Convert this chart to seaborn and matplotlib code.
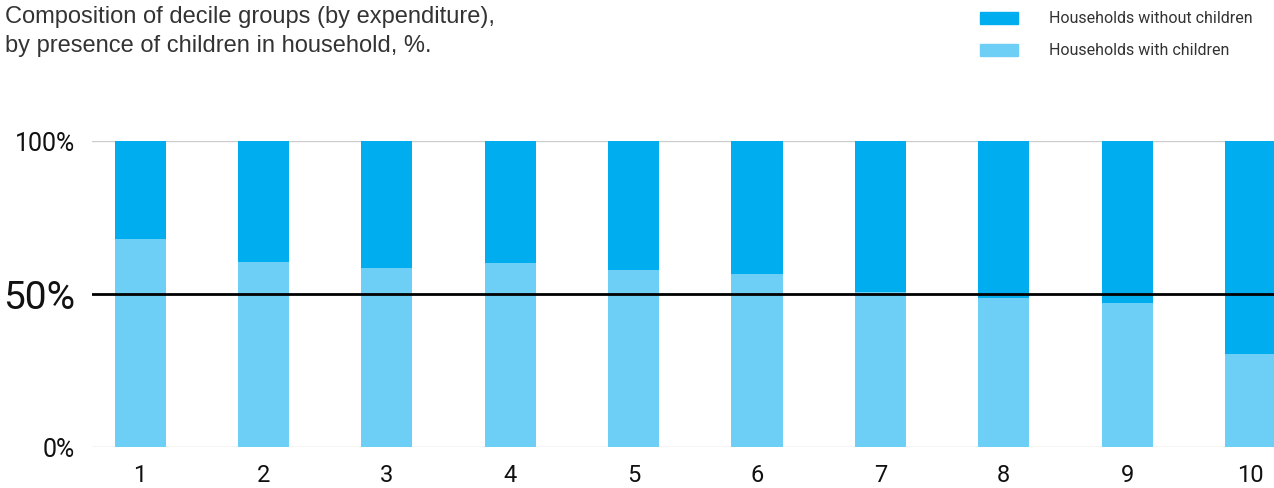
import matplotlib
matplotlib.use("Agg")
import matplotlib.pyplot as plt
import matplotlib.patches as mpatches
import seaborn as sns
import pandas as pd

deciles = ["1", "2", "3", "4", "5", "6", "7", "8", "9", "10"]
with_children = [68.0, 60.5, 58.5, 60.1, 57.8, 56.5, 50.7, 48.8, 47.2, 30.4]
total = [100] * 10

dark = "#00AEEF"
light = "#6ECFF6"

sns.set_theme(style="white")
plt.rcParams["font.family"] = ["Roboto", "DejaVu Sans"]

df = pd.DataFrame({"decile": deciles, "with": with_children, "total": total})

fig = plt.figure(figsize=(12.74, 4.88), dpi=100)
ax = fig.add_axes([0.0722, 0.084, 0.9278, 0.627])

sns.barplot(data=df, x="decile", y="total", color=dark, width=0.415,
            saturation=1, linewidth=0, ax=ax, zorder=2)
sns.barplot(data=df, x="decile", y="with", color=light, width=0.415,
            saturation=1, linewidth=0, ax=ax, zorder=3)

ax.set_ylim(0, 100)
ax.set_xlim(-0.39, 9.19)
ax.axhline(0, color="#cccccc", lw=1, zorder=1)
ax.axhline(100, color="#cccccc", lw=1, zorder=1)
ax.axhline(50, color="black", lw=2, zorder=4)
for s in ax.spines.values():
    s.set_visible(False)
ax.set_xlabel("")
ax.set_ylabel("")
ax.set_yticks([0, 50, 100])
ax.set_yticklabels(["0%", "50%", "100%"])
for lab in ax.get_yticklabels():
    lab.set_fontsize(28 if lab.get_text() == "50%" else 18)
    lab.set_color("#111111")
ax.tick_params(axis="y", length=0, pad=12)
ax.tick_params(axis="x", length=0, pad=12, labelsize=17, labelcolor="#111111")

fig.text(0.004, 0.988, "Composition of decile groups (by expenditure),\nby presence of children in household, %.",
         family="Liberation Sans", fontsize=17, color="#333333", va="top",
         linespacing=1.42)

# legend
for y, c, t in [(0.963, dark, "Households without children"),
                (0.897, light, "Households with children")]:
    fig.patches.append(mpatches.Rectangle((0.769, y - 0.012), 0.030, 0.025,
                                          transform=fig.transFigure, color=c))
    fig.text(0.823, y, t, fontsize=11.5, color="#333333", va="center")

fig.savefig("out.png", dpi=100)
